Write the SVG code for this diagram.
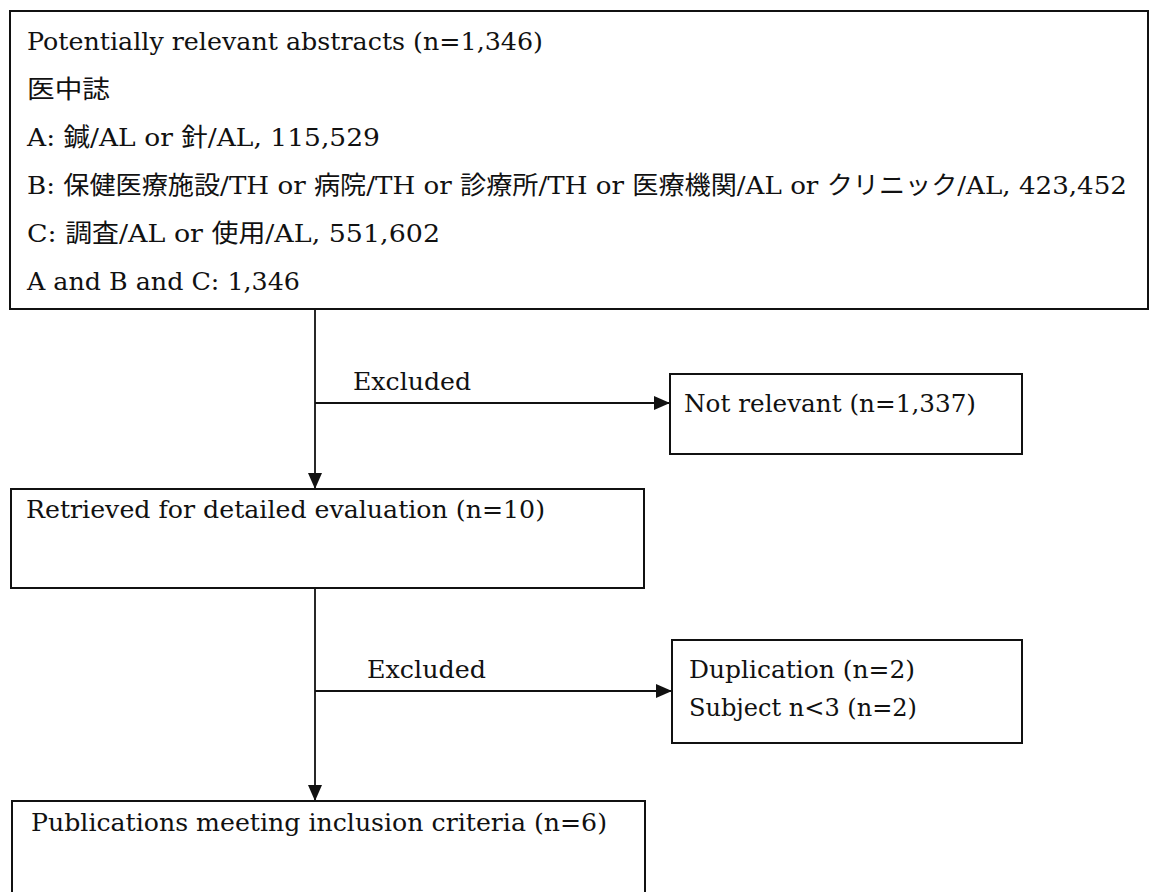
<svg xmlns="http://www.w3.org/2000/svg" width="1150" height="892" viewBox="0 0 1150 892">
<style>
.box{fill:#fff;stroke:#111;stroke-width:2}
.t{font-family:"DejaVu Serif","Noto Sans CJK JP",serif;font-size:25px;fill:#111}
.c{fill:none;stroke:#111;stroke-width:1.8}
</style>
<defs>
<marker id="ah" viewBox="0 0 16 14" refX="16" refY="7" markerWidth="16" markerHeight="14" markerUnits="userSpaceOnUse" orient="auto">
<path d="M0,0 L16,7 L0,14 z" fill="#111"/>
</marker>
</defs>
<rect width="1150" height="892" fill="#fff"/>
<g id="connectors">
<line class="c" x1="315" y1="309" x2="315" y2="489" marker-end="url(#ah)"/>
<line class="c" x1="315" y1="403" x2="670" y2="403" marker-end="url(#ah)"/>
<line class="c" x1="315" y1="588" x2="315" y2="801" marker-end="url(#ah)"/>
<line class="c" x1="315" y1="691" x2="672" y2="691" marker-end="url(#ah)"/>
<text class="t" x="353" y="390" textLength="118" lengthAdjust="spacingAndGlyphs">Excluded</text>
<text class="t" x="367" y="678" textLength="119" lengthAdjust="spacingAndGlyphs">Excluded</text>
</g>
<g id="node-abstracts">
<rect class="box" x="10" y="11" width="1138" height="298"/>
<text class="t" x="27" y="50" textLength="516" lengthAdjust="spacingAndGlyphs">Potentially relevant abstracts (n=1,346)</text>
<text class="t" x="27" y="98" textLength="83" lengthAdjust="spacingAndGlyphs">医中誌</text>
<text class="t" x="27" y="146" textLength="353" lengthAdjust="spacingAndGlyphs">A: 鍼/AL or 針/AL, 115,529</text>
<text class="t" x="27" y="194" textLength="1100" lengthAdjust="spacingAndGlyphs">B: 保健医療施設/TH or 病院/TH or 診療所/TH or 医療機関/AL or クリニック/AL, 423,452</text>
<text class="t" x="27" y="242" textLength="413" lengthAdjust="spacingAndGlyphs">C: 調査/AL or 使用/AL, 551,602</text>
<text class="t" x="27" y="290" textLength="273" lengthAdjust="spacingAndGlyphs">A and B and C: 1,346</text>
</g>
<g id="node-not-relevant">
<rect class="box" x="670" y="374" width="352" height="80"/>
<text class="t" x="684" y="412" textLength="292" lengthAdjust="spacingAndGlyphs">Not relevant (n=1,337)</text>
</g>
<g id="node-retrieved">
<rect class="box" x="11" y="489" width="633" height="99"/>
<text class="t" x="26" y="518" textLength="519" lengthAdjust="spacingAndGlyphs">Retrieved for detailed evaluation (n=10)</text>
</g>
<g id="node-excluded-2">
<rect class="box" x="672" y="640" width="350" height="103"/>
<text class="t" x="689" y="678" textLength="226" lengthAdjust="spacingAndGlyphs">Duplication (n=2)</text>
<text class="t" x="689" y="716" textLength="228" lengthAdjust="spacingAndGlyphs">Subject n&lt;3 (n=2)</text>
</g>
<g id="node-publications">
<rect class="box" x="12" y="801" width="633" height="110"/>
<text class="t" x="31" y="831" textLength="576" lengthAdjust="spacingAndGlyphs">Publications meeting inclusion criteria (n=6)</text>
</g>
</svg>
